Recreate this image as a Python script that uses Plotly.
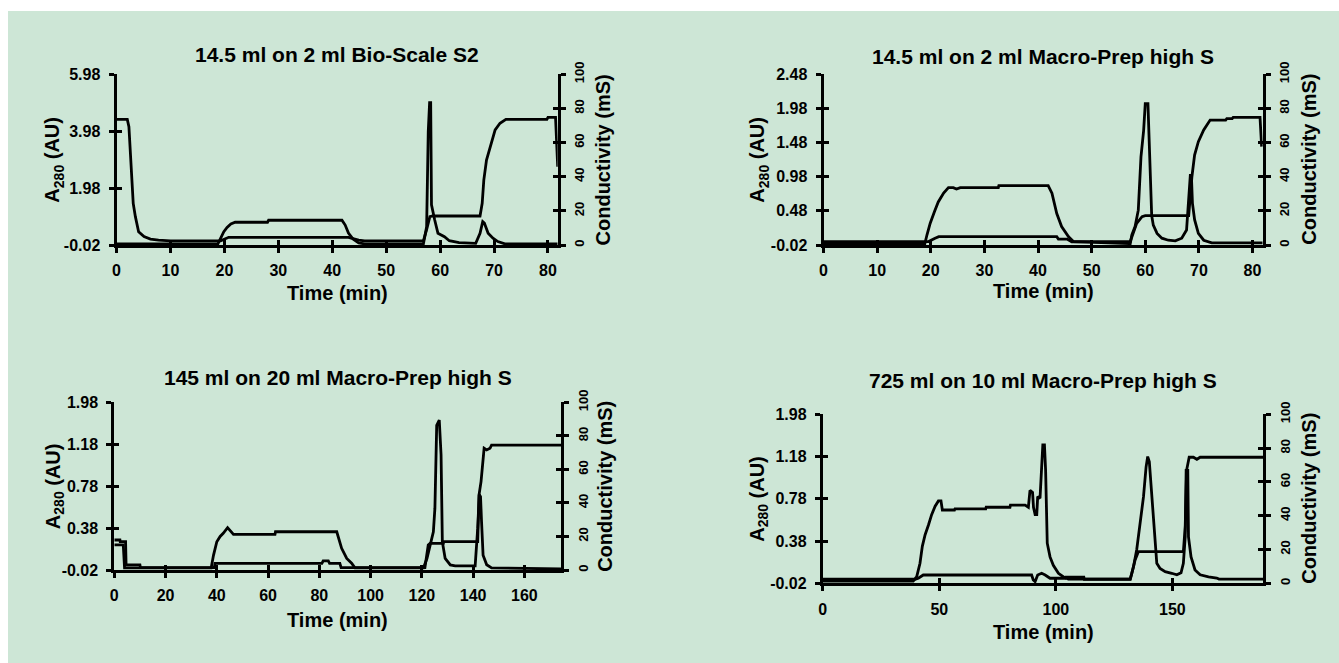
import plotly.graph_objects as go

W, H = 1339, 663
BG = "#cde6d6"
FONT = "Liberation Sans"

# ---------------- data ----------------
titles = ["14.5 ml on 2 ml Bio-Scale S2", "14.5 ml on 2 ml Macro-Prep high S",
          "145 ml on 20 ml Macro-Prep high S", "725 ml on 10 ml Macro-Prep high S"]

# Panel 1
t_a1 = [0, 18.8, 19.9, 20.5, 21.2, 22.0, 28.0, 28.2, 41.8, 42.4, 43.0, 43.9, 44.9, 46, 56.9, 57.5,
        57.8, 58.05, 58.25, 58.4, 59.0, 59.6, 60.8, 61.7, 63.5, 66.6, 67.4, 67.9, 68.2, 68.9, 69.8,
        70.7, 72, 81.8]
a1 = [0.02, 0.02, 0.45, 0.60, 0.72, 0.78, 0.78, 0.85, 0.85, 0.68, 0.40, 0.18, 0.05, 0.02, 0.02, 0.62,
      3.96, 4.98, 4.98, 1.39, 0.86, 0.39, 0.27, 0.13, 0.06, 0.04, 0.39, 0.80, 0.75, 0.39, 0.22,
      0.10, 0.02, 0.02]
t_c1 = [0, 2.0, 2.3, 2.6, 2.8, 3.1, 3.5, 4.1, 5.1, 6.3, 7.8, 10, 19.3, 20.0, 20.8, 43.0, 44.0, 44.9,
        46, 56.9, 57.5, 58.1, 58.6, 67.4, 67.8, 68.1, 68.6, 69.2, 70.2, 71.1, 72.2, 79.8, 80.0, 81.4,
        81.6, 81.8]
c1 = [73.6, 73.6, 69.3, 51.7, 34.2, 24.4, 16.6, 7.8, 4.9, 3.5, 2.9, 2.4, 2.4, 3.5, 4.5, 4.5, 3.5, 2.9,
      2.4, 2.4, 9.0, 16.6, 17.0, 17.0, 24.4, 38.0, 49.8, 56.6, 67.4, 71.3, 73.6, 73.6, 74.8, 74.8,
      60.0, 45.9]

# Panel 2
t_a2 = [0, 18.9, 19.3, 19.9, 20.7, 21.4, 22.4, 23.3, 24.2, 24.8, 25.5, 32.6, 32.7, 41.9, 42.6, 43.5,
        44.4, 45.7, 46.6, 57.2, 57.5, 58.1, 58.7, 59.0, 59.2, 59.7, 60.0, 60.5, 60.7, 60.9, 61.1, 61.2,
        61.5, 62.2, 63.1, 64.3, 65.6, 66.8, 67.7, 68.1, 68.4, 68.6, 68.8, 69.2, 69.9, 70.9, 72.4, 81.9]
a2 = [0.0, 0.0, 0.13, 0.30, 0.47, 0.61, 0.74, 0.82, 0.82, 0.80, 0.82, 0.82, 0.85, 0.85, 0.74, 0.44,
      0.25, 0.10, 0.03, 0.0, 0.13, 0.25, 0.49, 0.88, 1.27, 1.66, 2.05, 2.05, 1.57, 1.22, 0.93, 0.41,
      0.27, 0.15, 0.08, 0.05, 0.04, 0.08, 0.20, 0.64, 1.00, 1.00, 0.59, 0.35, 0.15, 0.05, 0.01, 0.01]
t_c2 = [0, 19.6, 20.8, 21.5, 43.5, 43.8, 45.4, 46.3, 57.2, 57.8, 58.4, 59.4, 60.0, 68.1, 68.4, 68.7,
        69.2, 69.9, 70.9, 72.1, 75.0, 75.2, 76.2, 76.4, 81.4, 81.7]
c2 = [2.0, 2.0, 3.9, 4.9, 4.9, 3.5, 3.5, 1.9, 2.0, 6.8, 12.7, 16.6, 17.2, 17.2, 28.3, 40.0,
      52.7, 60.5, 67.4, 73.2, 73.2, 74.0, 74.0, 74.8, 74.8, 57.6]

# Panel 3
t_a3 = [0, 3.5, 4.0, 37.8, 38.7, 40.0, 41.3, 42.5, 44.2, 46.5, 62.7, 62.9, 86.8, 87.4, 88.7, 90.7,
        92.6, 93.9, 120.6, 122.0, 123.2, 124.5, 125.1, 125.8, 126.8, 127.5, 128.0, 129.1, 131.1, 133,
        140.8, 141.8, 142.4, 142.9, 143.3, 143.9, 145.3, 147.2, 174.3]
a3 = [0.22, 0.22, 0.0, 0.0, 0.12, 0.25, 0.30, 0.33, 0.384, 0.32, 0.32, 0.345, 0.345, 0.29, 0.187, 0.09,
      0.045, 0.0, 0.0, 0.09, 0.22, 0.345, 0.57, 1.36, 1.41, 1.08, 0.25, 0.09, 0.028, 0.02,
      0.02, 0.377, 0.70, 0.68, 0.44, 0.12, 0.03, 0.0, -0.01]
t_c3 = [0, 2.2, 2.3, 4.4, 4.6, 10.0, 10.2, 39.0, 39.3, 81.0, 81.5, 83.5, 84.0, 88.0, 88.5, 121.2,
        122.5, 123.2, 128.4, 128.6, 141.8, 142.3, 143.1, 143.7, 144.3, 145.3, 146.6, 147.2, 174.3]
c3 = [17.9, 17.9, 16.9, 16.9, 3.0, 3.0, 1.4, 1.4, 4.0, 4.0, 5.5, 5.5, 4.0, 4.0, 1.4, 1.4,
      14.9, 15.9, 15.9, 16.9, 16.9, 44.7, 52.7, 64.6, 72.6, 71.6, 72.6, 74.5, 74.5]

# Panel 4
t_a4 = [0, 38.8, 40.3, 41.7, 42.7, 43.9, 45.3, 46.7, 48.2, 49.6, 50.7, 51.3, 56.5, 56.7, 69.9, 70.1,
        80.3, 80.5, 86.8, 88.2, 88.9, 90.0, 90.4, 91.1, 91.8, 92.2, 93.2, 93.9, 94.4, 95.1, 95.6, 96.3,
        97.5, 98.9, 101.1, 103.3, 105.4, 131.9, 133.3, 134.7, 136.1, 137.6, 138.7, 139.4, 140.1,
        140.9, 141.9, 142.6, 143.3, 144.7, 146.9, 149.7, 151.9, 153.7, 154.7, 155.5, 155.9, 156.6,
        156.9, 158.0, 159.7, 161.9, 165.5, 169.0, 170, 189]
a4 = [0.0, 0.0, 0.043, 0.17, 0.33, 0.44, 0.53, 0.63, 0.71, 0.76, 0.76, 0.674, 0.674, 0.684, 0.684, 0.70,
      0.70, 0.72, 0.72, 0.70, 0.86, 0.84, 0.70, 0.63, 0.63, 0.80, 0.785, 1.05, 1.29, 1.29, 1.05, 0.36,
      0.23, 0.15, 0.075, 0.04, 0.02, 0.02, 0.137, 0.30, 0.52, 0.80, 1.08, 1.18, 1.13,
      0.895, 0.67, 0.42, 0.17, 0.12, 0.09, 0.075, 0.06, 0.08, 0.17, 0.42, 1.05, 1.05,
      0.42, 0.23, 0.106, 0.06, 0.04, 0.03, 0.02, 0.02]
t_c4 = [0, 39.6, 41.0, 43.1, 89.6, 90.3, 91.1, 92.2, 93.9, 95.4, 97.5, 104.0, 104.2, 112.0, 112.2,
        131.9, 132.6, 134.0, 135.4, 154.7, 155.5, 156.1, 157.2, 159.0, 160.5, 161.9, 189]
c4 = [2.4, 2.4, 3.0, 4.9, 4.9, 2.0, 1.0, 4.9, 5.9, 4.9, 3.0, 3.0, 3.6, 3.6, 2.4,
      2.4, 5.9, 13.8, 18.7, 18.7, 33.6, 67.0, 74.6, 74.6, 73.4, 74.6, 74.6]

x_max = [81.8, 81.9, 174.3, 189]
x_ticks = [list(range(0, 81, 10)), list(range(0, 81, 10)), list(range(0, 161, 20)), [0, 50, 100, 150]]
y_ranges = [[-0.02, 5.98], [-0.02, 2.48], [-0.02, 1.58], [-0.02, 1.58]]
y_tickvals = [[-0.02, 1.98, 3.98, 5.98], [-0.02, 0.48, 0.98, 1.48, 1.98, 2.48],
              [-0.02, 0.38, 0.78, 1.18, 1.58], [-0.02, 0.38, 0.78, 1.18, 1.58]]
y_ticktext = [["-0.02", "1.98", "3.98", "5.98"], ["-0.02", "0.48", "0.98", "1.48", "1.98", "2.48"],
              ["-0.02", "0.38", "0.78", "1.18", "1.98"], ["-0.02", "0.38", "0.78", "1.18", "1.98"]]
cond_ticks = [0, 20, 40, 60, 80, 100]

t_a = [t_a1, t_a2, t_a3, t_a4]
a_v = [a1, a2, a3, a4]
t_c = [t_c1, t_c2, t_c3, t_c4]
c_v = [c1, c2, c3, c4]

# ---------------- layout geometry (pixels) ----------------
geo = [(116.5, 557.7, 74.3, 245), (823.5, 1262.7, 74.3, 245),
       (114.3, 561, 402.3, 570), (822.8, 1263.3, 414.3, 583.3)]
title_y = [54, 56, 377, 380]
xlab_y = [292.7, 290.7, 620, 631.7]
ylab_x = [54, 759, 54, 759]
clab_x = [602.8, 1309, 604.7, 1309]


def fx(px):
    return px / W


def fy(py):
    return 1 - py / H


def nm(i):
    return "" if i == 1 else str(i)


fig = go.Figure()
layout = dict(width=W, height=H, margin=dict(l=0, r=0, t=0, b=0, pad=0), autosize=False,
              paper_bgcolor="white", plot_bgcolor="rgba(0,0,0,0)", showlegend=False,
              font=dict(family=FONT, color="black", size=16, weight="bold"))
annotations = []
line = dict(color="black", width=2.8)
axcommon = dict(showgrid=False, zeroline=False, linecolor="black", linewidth=3, automargin=False,
                tickcolor="black", tickwidth=3, ticklen=5, fixedrange=True)

for k in range(4):
    i = k + 1
    l, r, t, b = geo[k]
    xd = [fx(l), fx(r)]
    yd = [fy(b), fy(t)]
    xi, yi, yc = i, i, i + 4
    xin, yin, ycin = i + 4, i + 8, i + 12

    fig.add_trace(go.Scatter(x=t_a[k], y=a_v[k], mode="lines", line=line,
                             xaxis="x" + nm(xi), yaxis="y" + nm(yi), hoverinfo="skip"))
    fig.add_trace(go.Scatter(x=t_c[k], y=c_v[k], mode="lines", line=line,
                             xaxis="x" + nm(xi), yaxis="y" + nm(yc), hoverinfo="skip"))
    # empty traces that activate the inside-tick overlay axes
    fig.add_trace(go.Scatter(x=[None], y=[None], xaxis="x" + nm(xin), yaxis="y" + nm(yin),
                             hoverinfo="skip"))
    fig.add_trace(go.Scatter(x=[None], y=[None], xaxis="x" + nm(xi), yaxis="y" + nm(ycin),
                             hoverinfo="skip"))

    layout["xaxis" + nm(xi)] = dict(axcommon, domain=xd, range=[0, x_max[k]], anchor="y" + nm(yi),
                                    showline=True, ticks="outside", tickvals=x_ticks[k],
                                    tickfont=dict(size=16), ticklabelstandoff=4)
    layout["yaxis" + nm(yi)] = dict(axcommon, domain=yd, range=y_ranges[k], anchor="x" + nm(xi),
                                    side="left", showline=True, ticks="outside",
                                    tickvals=y_tickvals[k], ticktext=y_ticktext[k],
                                    tickfont=dict(size=16), ticklabelstandoff=5)
    layout["yaxis" + nm(yc)] = dict(axcommon, range=[0, 100], anchor="x" + nm(xi),
                                    overlaying="y" + nm(yi), side="right", showline=True,
                                    ticks="outside", tickvals=cond_ticks, tickangle=-90,
                                    tickfont=dict(size=13), ticklabelstandoff=3)
    # inside halves of the crossing ticks
    layout["xaxis" + nm(xin)] = dict(axcommon, range=[0, x_max[k]], anchor="y" + nm(yi),
                                     overlaying="x" + nm(xi), side="bottom", showline=False,
                                     ticks="inside", tickvals=x_ticks[k], showticklabels=False)
    layout["yaxis" + nm(yin)] = dict(axcommon, range=y_ranges[k], anchor="x" + nm(xi),
                                     overlaying="y" + nm(yi), side="left", showline=False,
                                     ticks="inside", tickvals=y_tickvals[k], showticklabels=False)
    layout["yaxis" + nm(ycin)] = dict(axcommon, range=[0, 100], anchor="x" + nm(xi),
                                      overlaying="y" + nm(yi), side="right", showline=False,
                                      ticks="inside", tickvals=cond_ticks, showticklabels=False)

    cx = (l + r) / 2
    annotations.append(dict(text=titles[k], x=fx(cx), y=fy(title_y[k]), xref="paper", yref="paper",
                            showarrow=False, xanchor="center", yanchor="middle",
                            font=dict(size=21, weight="bold")))
    annotations.append(dict(text="Time (min)", x=fx(cx), y=fy(xlab_y[k]), xref="paper", yref="paper",
                            showarrow=False, xanchor="center", yanchor="middle",
                            font=dict(size=20, weight="bold")))
    cy = (t + b) / 2
    annotations.append(dict(text="A<sub>280</sub> (AU)", x=fx(ylab_x[k]), y=fy(cy), xref="paper",
                            yref="paper", showarrow=False, textangle=-90, xanchor="center",
                            yanchor="middle", font=dict(size=20, weight="bold")))
    annotations.append(dict(text="Conductivity (mS)", x=fx(clab_x[k]), y=fy(cy), xref="paper",
                            yref="paper", showarrow=False, textangle=-90, xanchor="center",
                            yanchor="middle", font=dict(size=20, weight="bold")))

layout["annotations"] = annotations
layout["shapes"] = [dict(type="rect", xref="paper", yref="paper", x0=8 / W, x1=1, y0=0, y1=1 - 11 / H,
                         fillcolor=BG, line=dict(width=0), layer="below")]
fig.update_layout(**layout)
fig.write_html("out.html", config={"displayModeBar": False},
               post_script="document.documentElement.style.margin='0px';"
                           "document.body.style.margin='0px';document.body.style.padding='0px';")
